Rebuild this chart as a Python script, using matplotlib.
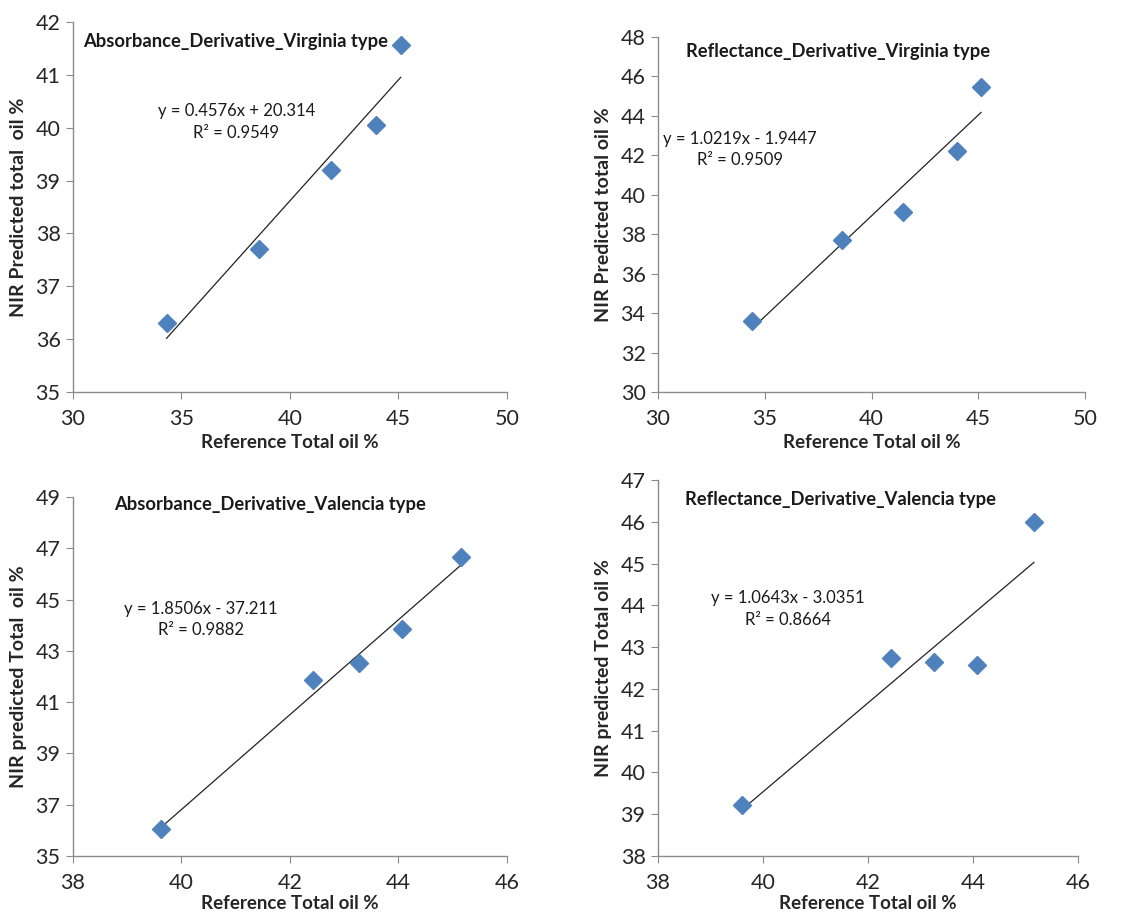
import numpy as np
import matplotlib.pyplot as plt

plt.rcParams['font.family'] = ['Lato', 'DejaVu Sans']

# panel data
titles = ['Absorbance_Derivative_Virginia type', 'Reflectance_Derivative_Virginia type',
          'Absorbance_Derivative_Valencia type', 'Reflectance_Derivative_Valencia type']
ylabels = ['NIR Predicted total  oil %', 'NIR Predicted total oil %',
           'NIR predicted Total  oil %', 'NIR predicted Total oil %']
xlabel = 'Reference Total oil %'

ref_abs_vir = [34.31, 38.58, 41.91, 43.95, 45.10]
nir_abs_vir = [36.31, 37.71, 39.20, 40.05, 41.56]
ref_ref_vir = [34.40, 38.63, 41.47, 43.99, 45.13]
nir_ref_vir = [33.58, 37.72, 39.14, 42.24, 45.46]
ref_abs_val = [39.63, 42.43, 43.27, 44.07, 45.16]
nir_abs_val = [36.04, 41.85, 42.53, 43.87, 46.66]
ref_ref_val = [39.60, 42.43, 43.26, 44.08, 45.16]
nir_ref_val = [39.21, 42.73, 42.65, 42.58, 45.99]

slopes = [0.4576, 1.0219, 1.8506, 1.0643]
intercepts = [20.314, -1.9447, -37.211, -3.0351]
eq_text = ['y = 0.4576x + 20.314\nR² = 0.9549', 'y = 1.0219x - 1.9447\nR² = 0.9509',
           'y = 1.8506x - 37.211\nR² = 0.9882', 'y = 1.0643x - 3.0351\nR² = 0.8664']

xlims = [(30, 50), (30, 50), (38, 46), (38, 46)]
ylims = [(35, 42), (30, 48), (35, 49), (38, 47)]
xticks = [np.arange(30, 51, 5), np.arange(30, 51, 5), np.arange(38, 47, 2), np.arange(38, 47, 2)]
yticks = [np.arange(35, 43, 1), np.arange(30, 49, 2), np.arange(35, 50, 2), np.arange(38, 48, 1)]

xs = [ref_abs_vir, ref_ref_vir, ref_abs_val, ref_ref_val]
ys = [nir_abs_vir, nir_ref_vir, nir_abs_val, nir_ref_val]

# axes boxes [left, bottom, width, height]
boxes = [[0.0637, 0.5716, 0.3787, 0.4044],
         [0.5742, 0.5716, 0.3726, 0.3880],
         [0.0637, 0.0645, 0.3787, 0.3923],
         [0.5742, 0.0645, 0.3665, 0.4109]]
title_pos = [(0.023, 0.946), (0.066, 0.958), (0.094, 0.978), (0.064, 0.949)]
eq_pos = [(0.376, 0.73), (0.192, 0.683), (0.295, 0.659), (0.31, 0.656)]
xlabel_pad = [4, 4, 2, 2]

fig = plt.figure(figsize=(11.46, 9.15), dpi=100)

for i in range(4):
    ax = fig.add_axes(boxes[i])
    x = np.array(xs[i])
    y = np.array(ys[i])
    xl = np.array([x.min(), x.max()])
    ax.plot(xl, slopes[i] * xl + intercepts[i], color='#222222', lw=0.9)
    ax.plot(x, y, 'D', color='#4F81BD', ms=9, mec='#4F81BD', zorder=3, clip_on=False)
    ax.set_xlim(*xlims[i])
    ax.set_ylim(*ylims[i])
    ax.set_xticks(xticks[i])
    ax.set_yticks(yticks[i])
    for s in ['top', 'right']:
        ax.spines[s].set_visible(False)
    for s in ['left', 'bottom']:
        ax.spines[s].set_color('#8c8c8c')
        ax.spines[s].set_linewidth(1.0)
    ax.tick_params(direction='out', length=5, color='#8c8c8c', labelsize=15.5,
                   labelcolor='#262626')
    ax.tick_params(axis='x', pad=7)
    ax.tick_params(axis='y', pad=4)
    ax.set_xlabel(xlabel, fontsize=13.5, fontweight='bold', color='#262626',
                  labelpad=xlabel_pad[i])
    ax.set_ylabel(ylabels[i], fontsize=14, fontweight='bold', color='#262626', labelpad=6)
    ax.text(title_pos[i][0], title_pos[i][1], titles[i], transform=ax.transAxes,
            fontsize=13.2, fontweight='bold', color='#1a1a1a', ha='left', va='center')
    ax.text(eq_pos[i][0], eq_pos[i][1], eq_text[i], transform=ax.transAxes,
            fontsize=12, color='#1a1a1a', ha='center', va='center', linespacing=1.45)

fig.savefig('out.png', dpi=100)
